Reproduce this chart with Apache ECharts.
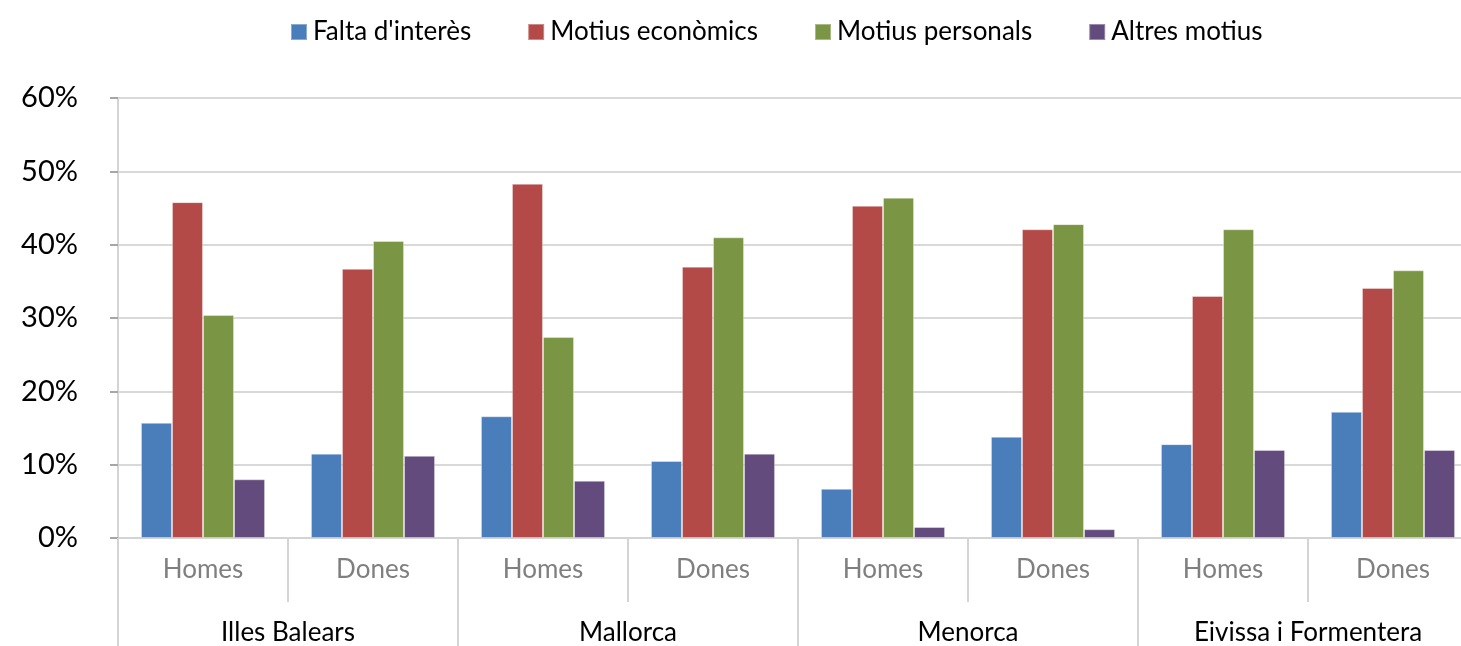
<!DOCTYPE html>
<html><head><meta charset="utf-8">
<script src="https://cdn.jsdelivr.net/npm/echarts@6/dist/echarts.min.js"></script>
<style>html,body{margin:0;padding:0;background:#fff;overflow:hidden;width:1461px;height:646px}#c{width:1478px;height:646px}</style>
</head><body><div id="c"></div>
<script>
const subCategories = ['Homes','Dones','Homes','Dones','Homes','Dones','Homes','Dones'];
const groups = ['Illes Balears','Mallorca','Menorca','Eivissa i Formentera'];
const seriesNames = ["Falta d'interès",'Motius econòmics','Motius personals','Altres motius'];
const faltaInteres = [15.7, 11.5, 16.6, 10.5, 6.7, 13.8, 12.8, 17.2];
const motiusEconomics = [45.8, 36.7, 48.3, 37.0, 45.3, 42.1, 33.0, 34.1];
const motiusPersonals = [30.4, 40.5, 27.4, 41.0, 46.4, 42.8, 42.1, 36.5];
const altresMotius = [8.0, 11.2, 7.8, 11.5, 1.5, 1.2, 12.0, 12.0];
const colors = ['#4a7ebb','#b34a47','#7a9544','#634b7d'];
const data = [faltaInteres, motiusEconomics, motiusPersonals, altresMotius];
const font = 'Lato, "Open Sans", sans-serif';
const chart = echarts.init(document.getElementById('c'));
chart.setOption({
  animation: false,
  color: colors,
  legend: {
    top: 14, left: 285, itemWidth: 16, itemHeight: 16, itemGap: 56,
    icon: 'rect',
    textStyle: {fontFamily: font, fontSize: 26, color: '#000', padding:[0,0,0,1]},
    data: seriesNames
  },
  grid: {left: 118, top: 98, width: 1360, height: 440, containLabel: false},
  xAxis: [{
    type: 'category', data: subCategories, position: 'bottom',
    axisLine: {show: true, lineStyle: {color: '#d4d4d4', width: 2}},
    axisTick: {show: true, length: 64, interval: 0, lineStyle: {color: '#d4d4d4', width: 2}},
    axisLabel: {interval: 0, margin: 19, fontFamily: font, fontSize: 26, color: '#7f7f7f'}
  },{
    type: 'category', data: groups, position: 'bottom',
    axisLine: {show: false},
    axisTick: {show: true, length: 120, interval: 0, lineStyle: {color: '#d4d4d4', width: 2}},
    axisLabel: {interval: 0, margin: 82, fontFamily: font, fontSize: 26, color: '#000'}
  }],
  yAxis: {
    type: 'value', min: 0, max: 60, interval: 10,
    axisLine: {show: true, lineStyle: {color: '#d4d4d4', width: 2}},
    axisTick: {show: true, length: 8, lineStyle: {color: '#a6a6a6', width: 2}},
    splitLine: {lineStyle: {color: '#d9d9d9', width: 2}},
    axisLabel: {formatter: '{value}%', margin: 40, fontFamily: font, fontSize: 29, color: '#000'}
  },
  series: data.map((d, i) => ({
    name: seriesNames[i], type: 'bar', xAxisIndex: 0, data: d,
    barGap: '0%', barCategoryGap: '27%',
    itemStyle: {color: colors[i], borderColor: 'rgba(255,255,255,0.35)', borderWidth: 1}
  }))
});
</script></body></html>
